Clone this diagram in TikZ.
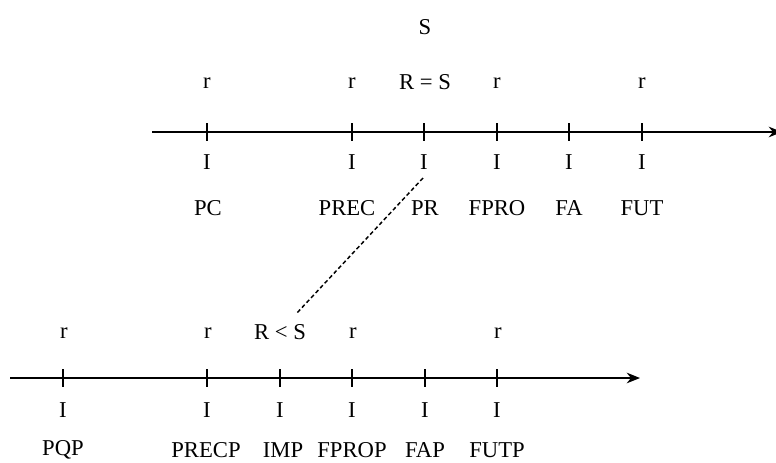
\documentclass[tikz,border=0pt]{standalone}
\usepackage{fontspec}
\setmainfont{Liberation Serif}
\usetikzlibrary{arrows.meta}
\begin{document}
\begin{tikzpicture}[x=0.75pt,y=-0.75pt,
  lab/.style={inner sep=0pt,font=\fontsize{17}{19}\selectfont},
  axis/.style={line width=1pt,-{Stealth[length=10pt,width=8pt]}},
  tick/.style={line width=0.9pt},
  link/.style={line width=1.1pt,dash pattern=on 3pt off 2pt}]
\useasboundingbox (0,0) rectangle (776,462);
% top axis
\coordinate (ta) at (152,132);
\coordinate (tb) at (782,132);
\draw[axis] (ta) -- (tb);
\foreach \x/\n in {207/t1,352/t2,424/t3,497/t4,569/t5,642/t6}{
  \coordinate (\n) at (\x,132);
  \draw[tick] ([yshift=6.75pt]\n) -- ([yshift=-6.75pt]\n);
  \node[lab] (\n i) at (\x,162) {I};
}
\node[lab] (S) at (425,27) {S};
\node[lab] (r1) at (207,83) {r};
\node[lab] (r2) at (352,83) {r};
\node[lab] (RS) at (425,82) {R = S};
\node[lab] (r3) at (497,83) {r};
\node[lab] (r4) at (642,83) {r};
\node[lab] (PC) at (208,208) {PC};
\node[lab] (PREC) at (347,208) {PREC};
\node[lab] (PR) at (425,208) {PR};
\node[lab] (FPRO) at (497,208) {FPRO};
\node[lab] (FA) at (569,208) {FA};
\node[lab] (FUT) at (642,208) {FUT};
% bottom axis
\coordinate (ba) at (10,378);
\coordinate (bb) at (640,378);
\draw[axis] (ba) -- (bb);
\foreach \x/\n in {63/b1,207/b2,280/b3,352/b4,425/b5,497/b6}{
  \coordinate (\n) at (\x,378);
  \draw[tick] ([yshift=6.75pt]\n) -- ([yshift=-6.75pt]\n);
  \node[lab] (\n i) at (\x,410) {I};
}
\node[lab] (s1) at (64,333) {r};
\node[lab] (s2) at (208,333) {r};
\node[lab] (RlS) at (280,332) {R < S};
\node[lab] (s3) at (353,333) {r};
\node[lab] (s4) at (498,333) {r};
\node[lab] (PQP) at (63,450) {PQP};
\node[lab] (PRECP) at (206,450) {PRECP};
\node[lab] (IMP) at (283,450) {IMP};
\node[lab] (FPROP) at (352,450) {FPROP};
\node[lab] (FAP) at (425,450) {FAP};
\node[lab] (FUTP) at (497,450) {FUTP};
% dashed link
\coordinate (da) at (423,178);
\coordinate (db) at (296,314);
\draw[link] (da) -- (db);
\end{tikzpicture}
\end{document}
